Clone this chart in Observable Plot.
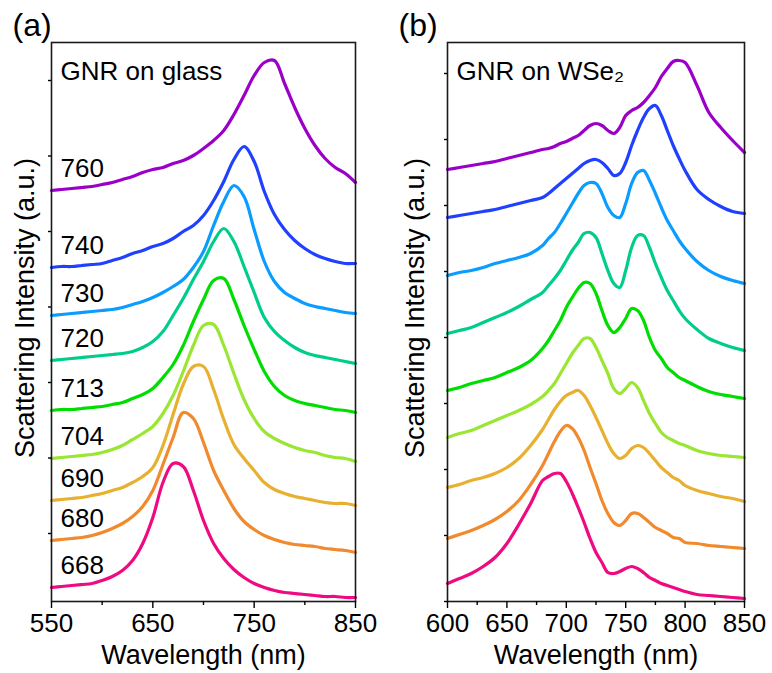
<!DOCTYPE html>
<html><head><meta charset="utf-8">
<script src="https://cdn.jsdelivr.net/npm/d3@7"></script>
<script src="https://cdn.jsdelivr.net/npm/@observablehq/plot@0.6"></script>
<style>
body{margin:0;background:#fff;}
#wrap{position:relative;width:772px;height:673px;font-family:"Liberation Sans",Arial,sans-serif;}
#a,#b{position:absolute;top:0;}
#a{left:0}#b{left:386px}
</style></head><body>
<div id="wrap"><div id="a"></div><div id="b"></div></div>
<script>
// ---- panel (a): GNR on glass ----
const wlA = [550,560,570,580,590,600,610,620,630,640,650,660,670,680,690,700,710,720,730,740,750,760,770,780,790,800,810,820,830,840,850];
const glass760 = [411,412,413,414,415,417,419,422,425,429,432,434,438,441,446,453,461,471,487,506,526,539,541,518,494,473,456,443,434,428,419];
const glass740 = [334,335,335,336,337,338,341,344,348,351,355,358,363,370,376,386,401,420,442,455,440,410,387,372,361,353,347,343,340,338,338];
const glass730 = [286,287,288,289,290,291,292,294,297,300,304,309,315,322,334,350,376,400,416,405,372,340,320,309,303,298,295,293,291,289,288];
const glass720 = [241,242,243,244,245,246,247,248,250,254,260,270,286,303,322,340,360,373,360,335,309,284,270,261,254,249,246,244,242,240,238];
const glass713 = [191,192,192,193,194,195,197,199,203,207,213,224,237,256,280,302,321,323,302,276,252,230,215,206,201,198,196,194,192,191,189];
const glass704 = [143,144,145,146,147,149,152,156,162,168,175,188,206,230,256,276,277,256,228,202,183,170,163,158,154,151,149,146,144,143,140];
const glass690 = [101,102,103,104,106,108,111,114,119,125,134,156,187,217,235,235,212,182,157,143,131,119,112,108,105,103,101,99,98,98,96];
const glass680 = [61,62,63,64,66,69,73,78,85,95,111,137,164,189,183,159,131,111,93,80,72,66,62,59,57,56,55,53,52,51,49];
const glass668 = [14,15,16,17,18,21,25,31,41,58,84,119,138,135,111,81,58,43,32,24,18,14,11,9,8,7,6,5,5,4,4];

// ---- panel (b): GNR on WSe2 ----
const wlB = [600,610,620,630,640,650,660,670,680,685,690,695,700,705,710,715,720,725,730,735,740,745,750,755,760,765,770,775,780,785,790,795,800,810,820,830,840,850];
const wse760 = [432,434,436,438,440,443,446,449,452,453,455,458,460,463,466,471,476,478,476,471,468,474,486,491,494,499,506,514,525,533,540,541,539,516,489,474,461,449];
const wse740 = [384,386,388,390,392,395,398,401,404,408,413,418,423,428,433,438,441,442,439,433,426,428,439,456,471,484,493,496,486,471,456,443,431,412,402,395,390,388];
const wse730 = [326,329,331,334,338,341,344,348,356,363,369,378,388,398,408,416,419,418,408,394,386,384,398,418,429,431,421,408,394,381,371,361,353,340,331,325,321,318];
const wse720 = [268,271,274,279,284,289,295,302,309,316,323,331,341,351,359,368,369,364,348,331,318,314,331,354,366,366,354,338,324,311,301,291,283,272,263,258,254,251];
const wse713 = [211,214,218,221,224,229,234,241,253,261,271,281,294,304,313,319,318,308,291,276,269,274,283,293,291,281,264,251,243,234,229,224,221,215,210,207,205,203];
const wse704 = [164,168,171,176,181,186,191,197,205,211,218,228,238,248,256,263,263,254,241,228,213,208,213,219,214,201,188,178,169,164,161,158,156,151,148,146,145,144];
const wse690 = [114,117,121,124,128,134,143,156,172,182,192,200,206,209,211,206,196,184,171,158,148,143,146,153,156,154,148,141,134,129,124,121,116,111,108,105,103,100];
const wse680 = [63,67,71,76,82,90,101,117,136,148,160,170,176,173,164,151,134,118,101,88,79,76,81,88,88,84,79,74,71,68,64,63,59,58,56,55,54,53];
const wse668 = [18,23,28,35,44,58,77,98,121,125,128,128,120,108,94,79,63,49,39,29,28,30,33,35,33,29,24,21,18,16,14,12,10,7,6,5,4,3];

// series labels (resonance wavelengths) and colours
const labels = ["760","740","730","720","713","704","690","680","668"];
const colors = ["#9b00c9","#2040ff","#0a9cff","#00cc8c","#00dd00","#99e633","#e8b030","#f08a2c","#ee0a80"];

// axis ticks
const majorA = [550,650,750,850];
const minorA = [600,700,800];
const majorB = [600,650,700,750,800,850];
const minorB = [625,675,725,775,825];
const yTicksA = [68,143.5,219,294.5,370,445.5,521];
const yTicksB = [0,66,132,198,264,330,396,462,528];

const glassSeries = [glass760,glass740,glass730,glass720,glass713,glass704,glass690,glass680,glass668];
const wseSeries = [wse760,wse740,wse730,wse720,wse713,wse704,wse690,wse680,wse668];

function rows(wl, series) {
  const out = [];
  series.forEach((vals, i) => vals.forEach((v, j) => out.push({label: labels[i], wl: wl[j], v})));
  return out;
}
const dataA = rows(wlA, glassSeries);
const dataB = rows(wlB, wseSeries);
const firstA = glassSeries.map((vals, i) => ({label: labels[i], wl: wlA[0], v: vals[0]}));

const FONT = "Liberation Sans, Arial, sans-serif";

function panel({data, xdom, major, minor, yTicks, mL, mR, tag, tagDx, title, ylabDx, extra}) {
  return Plot.plot({
    width: 386, height: 673,
    marginLeft: mL, marginRight: mR, marginTop: 42, marginBottom: 72,
    style: {fontFamily: FONT, background: "transparent", color: "#000"},
    x: {domain: xdom},
    y: {domain: [0, 559]},
    color: {domain: labels, range: colors},
    marks: [
      Plot.line(data, {x: "wl", y: "v", z: "label", stroke: "label", strokeWidth: 3.2, curve: "catmull-rom"}),
      ...(extra || []),
      Plot.frame({stroke: "#1a1a1a", strokeWidth: 1.6}),
      Plot.axisX({ticks: major, tickSize: 7, tickPadding: 5, fontSize: 26, label: null, strokeWidth: 1.4}),
      Plot.axisX({ticks: minor, tickSize: 4, tickFormat: () => "", label: null, strokeWidth: 1.4}),
      Plot.axisY({ticks: yTicks, tickSize: 3, tickFormat: () => "", label: null, strokeWidth: 1.4}),
      Plot.text(["Wavelength (nm)"], {frameAnchor: "bottom", dy: 62, lineAnchor: "bottom", textAnchor: "middle", fontSize: 27}),
      Plot.text(["Scattering Intensity (a.u.)"], {frameAnchor: "left", rotate: -90, dx: ylabDx, dy: -14, textAnchor: "middle", lineAnchor: "middle", fontSize: 27}),
      Plot.text([title], {frameAnchor: "top-left", dx: 9, dy: 37, lineAnchor: "bottom", textAnchor: "start", fontSize: 26}),
      Plot.text([tag], {frameAnchor: "top-left", dx: tagDx, dy: -7, lineAnchor: "bottom", textAnchor: "start", fontSize: 32})
    ]
  });
}

document.getElementById("a").append(panel({
  data: dataA, xdom: [550, 850], major: majorA, minor: minorA, yTicks: yTicksA,
  mL: 51, mR: 31, tag: "(a)", tagDx: -39, title: "GNR on glass", ylabDx: -26,
  extra: [Plot.text(firstA, {x: "wl", y: "v", text: "label", textAnchor: "start", lineAnchor: "bottom", dx: 9, dy: -14, fontSize: 26, fill: "#000"})]
}));
document.getElementById("b").append(panel({
  data: dataB, xdom: [600, 850], major: majorB, minor: minorB, yTicks: yTicksB,
  mL: 61, mR: 28, tag: "(b)", tagDx: -49, title: "GNR on WSe₂", ylabDx: -32
}));
</script>
</body></html>
